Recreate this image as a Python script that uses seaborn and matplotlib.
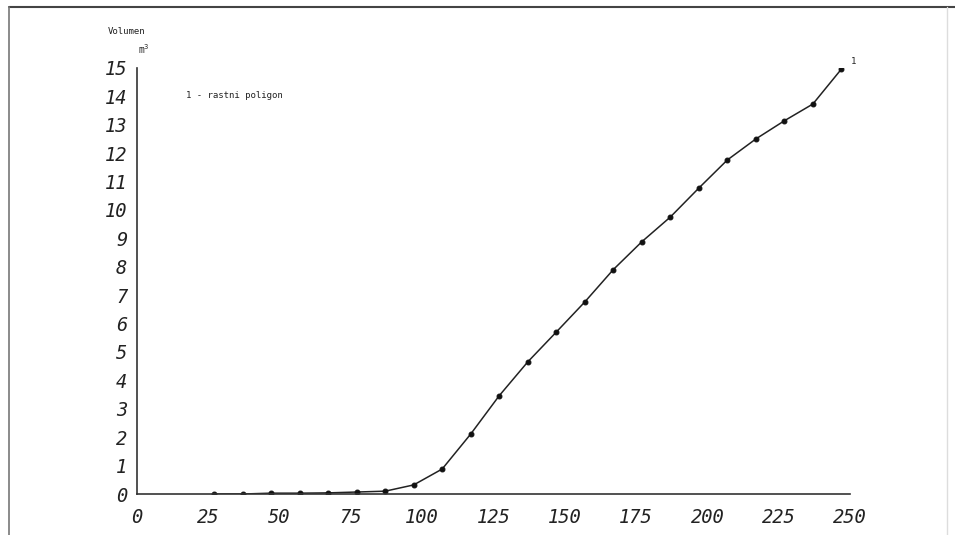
import matplotlib
matplotlib.use('Agg')
import matplotlib.pyplot as plt
import seaborn as sns
import pandas as pd
from matplotlib.lines import Line2D

sns.set_style('white')

# Data
starost = [27, 37, 47, 57, 67, 77, 87, 97, 107, 117, 127, 137, 147, 157,
           167, 177, 187, 197, 207, 217, 227, 237, 247]
volumen = [0.0, 0.0, 0.03, 0.03, 0.04, 0.07, 0.1, 0.32, 0.88, 2.11, 3.46,
           4.65, 5.70, 6.76, 7.90, 8.88, 9.75, 10.77, 11.76, 12.5, 13.14,
           13.73, 14.96]
x_ticks = [0, 25, 50, 75, 100, 125, 150, 175, 200, 225, 250]
y_ticks = list(range(0, 16))

df = pd.DataFrame({'starost': starost, 'volumen': volumen})

fig = plt.figure(figsize=(9.55, 5.35), dpi=100)
ax = fig.add_axes([0.1435, 0.0766, 0.7465, 0.7964])

sns.lineplot(x='starost', y='volumen', data=df, ax=ax, color='#222222',
             linewidth=1.1, marker='o', markersize=3.5,
             markerfacecolor='#111111', markeredgecolor='#111111')

ax.set_xlim(0, 250)
ax.set_ylim(0, 15)
ax.set_xticks(x_ticks)
ax.set_yticks(y_ticks)
tick_font = dict(family='DejaVu Sans Mono', style='oblique', size=13.5)
ax.set_xticklabels([str(t) for t in x_ticks], fontdict=tick_font)
ax.set_yticklabels([str(t) for t in y_ticks], fontdict=tick_font)
ax.tick_params(axis='x', direction='in', length=8, width=1, pad=10, colors='#222222')
ax.tick_params(axis='y', direction='in', length=6, width=1, pad=7, colors='#222222')
ax.set_xlabel('')
ax.set_ylabel('')
for s in ['top', 'right']:
    ax.spines[s].set_visible(False)
for s in ['left', 'bottom']:
    ax.spines[s].set_color('#333333')
    ax.spines[s].set_linewidth(1.2)

# labels
mono = dict(family='DejaVu Sans Mono', color='#222222')
fig.text(108 / 955, 1 - 31 / 535, 'Volumen', fontsize=6.5, va='center', **mono)
fig.text(138 / 955, 1 - 49 / 535, 'm$^3$', fontsize=7, va='center', **mono)
fig.text(186 / 955, 1 - 95 / 535, '1 - rastni poligon', fontsize=6.5, va='center', **mono)
ax.annotate('1', xy=(starost[-1], volumen[-1]), xytext=(7, 4),
            textcoords='offset points', fontsize=6.5, **mono)

# page frame
fig.add_artist(Line2D([0.009, 1.0], [0.986, 0.986], transform=fig.transFigure,
                      color='#444444', linewidth=1.5))
fig.add_artist(Line2D([0.009, 0.009], [0.0, 0.986], transform=fig.transFigure,
                      color='#777777', linewidth=1.2))
fig.add_artist(Line2D([0.992, 0.992], [0.0, 0.986], transform=fig.transFigure,
                      color='#dddddd', linewidth=1.0))

fig.savefig('out.png', dpi=100)
